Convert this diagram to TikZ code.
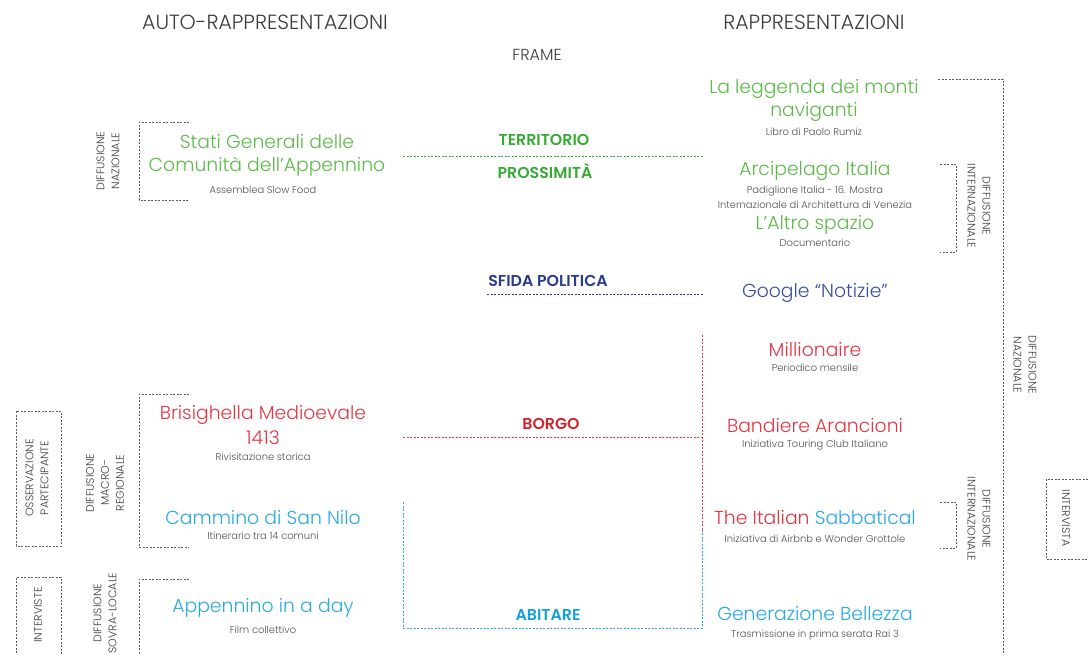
\documentclass[tikz,border=0pt]{standalone}
\usepackage{fontspec}
\setmainfont{Poppins}[UprightFont={* Light}, BoldFont={* SemiBold}]
\definecolor{tgreen}{RGB}{92,186,72}
\definecolor{lgreen}{RGB}{57,169,53}
\definecolor{tred}{RGB}{226,55,67}
\definecolor{lred}{RGB}{210,35,45}
\definecolor{tblue}{RGB}{41,170,225}
\definecolor{lblue}{RGB}{20,160,220}
\definecolor{dblue}{RGB}{58,80,160}
\definecolor{ldblue}{RGB}{40,60,140}
\definecolor{txtgray}{RGB}{60,60,60}
\definecolor{subgray}{RGB}{80,80,80}
\definecolor{brgray}{RGB}{90,90,90}
\begin{document}
\begin{tikzpicture}[x=1pt,y=-1pt,
  hdr/.style={font=\fontsize{20.5}{24}\selectfont, text=txtgray, inner sep=0pt},
  fr/.style={font=\fontsize{16}{19}\selectfont, text=txtgray, inner sep=0pt},
  ttl/.style={font=\fontsize{18.8}{23}\selectfont, align=center, inner sep=0pt},
  sub/.style={font=\fontsize{9.9}{15}\selectfont, text=subgray, align=center, inner sep=0pt},
  lab/.style={font=\bfseries\fontsize{15.8}{18}\selectfont, inner sep=0pt},
  rot/.style={font=\fontsize{11}{15}\selectfont, align=center, text=txtgray, inner sep=0pt},
  dsh/.style={dash pattern=on 2pt off 1.5pt, line width=0.8pt},
  brk/.style={dsh, draw=brgray}]
\useasboundingbox (0,0) rectangle (1088,654);

% headers
\node[hdr] (auto) at (265,22) {AUTO-RAPPRESENTAZIONI};
\node[hdr] (rapp) at (814,22) {RAPPRESENTAZIONI};
\node[fr] (frame) at (537,55) {FRAME};

% left column
\node[ttl,text=tgreen] (stati) at (267,155) {Stati Generali delle\\Comunità dell’Appennino};
\node[sub] (stati-s) at (263,190) {Assemblea Slow Food};
\node[ttl,text=tred] (bris) at (263,425) {Brisighella Medioevale\\[2pt]1413};
\node[sub] (bris-s) at (263,457) {Rivisitazione storica};
\node[ttl,text=tblue] (cammino) at (263,517) {Cammino di San Nilo};
\node[sub] (cammino-s) at (263,536) {Itinerario tra 14 comuni};
\node[ttl,text=tblue] (app) at (263,608) {Appennino in a day};
\node[sub] (app-s) at (263,630) {Film collettivo};

% right column
\node[ttl,text=tgreen] (leggenda) at (814,100) {La leggenda dei monti\\naviganti};
\node[sub] (leggenda-s) at (814,132) {Libro di Paolo Rumiz};
\node[ttl,text=tgreen] (arc) at (815,171) {Arcipelago Italia};
\node[sub] (arc-s) at (815,197) {Padiglione Italia - 16. Mostra\\Internazionale di Architettura di Venezia};
\node[ttl,text=tgreen] (altro) at (815,225) {L’Altro spazio};
\node[sub] (altro-s) at (815,243) {Documentario};
\node[ttl,text=dblue] (google) at (815,293) {Google “Notizie”};
\node[ttl,text=tred] (mill) at (815,350) {Millionaire};
\node[sub] (mill-s) at (815,368) {Periodico mensile};
\node[ttl,text=tred] (band) at (815,425) {Bandiere Arancioni};
\node[sub] (band-s) at (815,445) {Iniziativa Touring Club Italiano};
\node[ttl] (ital) at (815,517) {\textcolor{tred}{The Italian} \textcolor{tblue}{Sabbatical}};
\node[sub] (ital-s) at (815,539) {Iniziativa di Airbnb e Wonder Grottole};
\node[ttl,text=tblue] (gen) at (815,613) {Generazione Bellezza};
\node[sub] (gen-s) at (815,635) {Trasmissione in prima serata Rai 3};

% frame labels
\node[lab,text=lgreen] (terr) at (544,140) {TERRITORIO};
\node[lab,text=lgreen] (pross) at (545,171) {PROSSIMITÀ};
\node[lab,text=ldblue] (sfida) at (548,281) {SFIDA POLITICA};
\node[lab,text=lred] (borgo) at (551,424) {BORGO};
\node[lab,text=lblue] (abit) at (548,615) {ABITARE};

% frame lines
\coordinate (gA) at (403,156); \coordinate (gB) at (703,156);
\coordinate (bA) at (487,294); \coordinate (bB) at (703,294);
\coordinate (rA) at (403,437); \coordinate (rB) at (702,437);
\coordinate (rT) at (702,335); \coordinate (rM) at (702,530);
\coordinate (cT) at (403,502); \coordinate (cBL) at (403,628); \coordinate (cBR) at (702,628);
\draw[dsh,draw=lgreen] (gA) -- (gB);
\draw[dsh,draw=ldblue] (bA) -- (bB);
\draw[dsh,draw=tred] (rA) -- (rB);
\draw[dsh,draw=tred] (rT) -- (rM);
\draw[dsh,draw=tblue] (cT) -- (cBL) -- (cBR) -- (rM);

% left brackets and boxes
\draw[brk] (189,122) -- (139,122) -- (139,200) -- (189,200);
\draw[brk] (189,394) -- (139,394) -- (139,547) -- (189,547);
\draw[brk] (189,579) -- (139,579) -- (139,660);
\draw[brk] (16,411) rectangle (61,546);
\draw[brk] (16,660) -- (16,577) -- (61,577) -- (61,660);

% right brackets and box
\draw[brk] (938,79) -- (1003,79) -- (1003,660);
\draw[brk] (940,164) -- (956,164) -- (956,252) -- (940,252);
\draw[brk] (940,502) -- (956,502) -- (956,548) -- (940,548);
\draw[brk] (1095,479) -- (1046,479) -- (1046,559) -- (1095,559);

% rotated labels
\node[rot,rotate=90] (dn1) at (108,161) {DIFFUSIONE\\NAZIONALE};
\node[rot,rotate=90] (dmr) at (105,483) {DIFFUSIONE\\MACRO-\\REGIONALE};
\node[rot,rotate=90] (dsl) at (105,613) {DIFFUSIONE\\SOVRA-LOCALE};
\node[rot,rotate=90] (oss) at (37,478) {OSSERVAZIONE\\PARTECIPANTE};
\node[rot,rotate=90] (intv) at (38,615) {INTERVISTE};
\node[rot,rotate=-90] (di1) at (979,206) {DIFFUSIONE\\INTERNAZIONALE};
\node[rot,rotate=-90] (dn2) at (1025,365) {DIFFUSIONE\\NAZIONALE};
\node[rot,rotate=-90] (di2) at (979,519) {DIFFUSIONE\\INTERNAZIONALE};
\node[rot,rotate=-90] (intva) at (1066,518) {INTERVISTA};
\end{tikzpicture}
\end{document}
